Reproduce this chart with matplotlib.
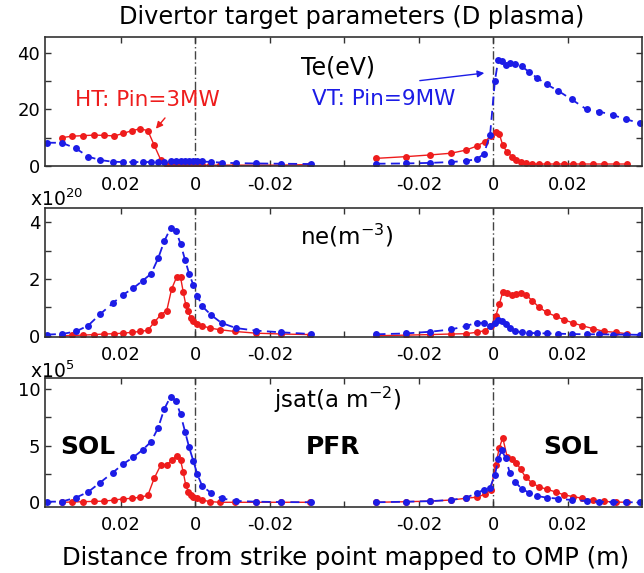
import matplotlib
matplotlib.use('Agg')
import matplotlib.pyplot as plt

# distance from strike point mapped to OMP (m); inner target drawn mirrored on the left,
# outer target shifted to the right half of the same axis
OUTER_OFFSET = 0.08

RED = '#ee1c1c'
BLUE = '#1c1ce6'

# HT (Pin=3MW) grids
d_in_ht = [0.0359, 0.0332, 0.0303, 0.0272, 0.0245, 0.0218, 0.0194, 0.0170, 0.0149, 0.0128,
           0.0111, 0.0093, 0.0077, 0.0064, 0.0050, 0.0040, 0.0033, 0.0026, 0.0019, 0.0013,
           0.0006, -0.0003, -0.0017, -0.0039, -0.0066, -0.0106, -0.0162, -0.0230, -0.0307]
d_out_ht = [-0.0314, -0.0235, -0.0170, -0.0114, -0.0074, -0.0045, -0.0023, -0.0007, 0.0006,
            0.0016, 0.0025, 0.0037, 0.0051, 0.0062, 0.0073, 0.0087, 0.0104, 0.0123, 0.0144,
            0.0168, 0.0190, 0.0214, 0.0239, 0.0268, 0.0297, 0.0329, 0.0358]

# VT (Pin=9MW) grids
d_in_vt = [0.0399, 0.0359, 0.0321, 0.0288, 0.0256, 0.0222, 0.0194, 0.0167, 0.0142, 0.0119,
           0.0100, 0.0084, 0.0067, 0.0053, 0.0040, 0.0028, 0.0017, 0.0006, -0.0005, -0.0018,
           -0.0043, -0.0070, -0.0109, -0.0162, -0.0230, -0.0310]
d_out_vt = [-0.0314, -0.0235, -0.0170, -0.0114, -0.0074, -0.0045, -0.0026, -0.0009, 0.0004,
            0.0013, 0.0022, 0.0033, 0.0044, 0.0058, 0.0076, 0.0095, 0.0116, 0.0143, 0.0174,
            0.0210, 0.0250, 0.0284, 0.0320, 0.0356, 0.0393]

# Te (eV)
te_in_ht = [10.0, 10.5, 10.7, 10.9, 10.8, 10.6, 11.5, 12.5, 13.1, 12.5, 7.4, 2.1, 0.4, 0.3,
            0.3, 0.3, 0.3, 0.3, 0.3, 0.3, 0.3, 0.3, 0.3, 0.3, 0.3, 0.3, 0.3, 0.3, 0.5]
te_out_ht = [2.7, 3.3, 3.9, 4.5, 5.6, 7.0, 8.6, 10.5, 12.1, 11.2, 7.4, 4.8, 3.3, 2.1, 1.4,
             0.9, 0.7, 0.7, 0.7, 0.7, 0.7, 0.7, 0.7, 0.7, 0.7, 0.7, 0.7]
te_in_vt = [8.2, 8.2, 6.2, 3.3, 2.1, 1.5, 1.4, 1.4, 1.4, 1.4, 1.5, 1.5, 1.6, 1.7, 1.8, 1.8,
            1.9, 1.9, 1.8, 1.6, 1.4, 1.2, 1.0, 0.9, 0.8, 0.7]
te_out_vt = [0.8, 0.9, 1.1, 1.4, 1.8, 2.4, 4.2, 10.9, 30.0, 37.4, 37.0, 35.8, 36.2, 35.9,
             35.1, 33.3, 31.2, 28.8, 26.5, 23.5, 20.0, 19.2, 18.0, 16.5, 15.1]

# ne (1e20 m^-3)
ne_in_ht = [0.0, 0.01, 0.02, 0.04, 0.06, 0.07, 0.09, 0.12, 0.15, 0.19, 0.47, 0.74, 0.89,
            1.65, 2.09, 2.06, 1.56, 1.09, 0.86, 0.62, 0.51, 0.41, 0.35, 0.27, 0.21, 0.15,
            0.09, 0.06, 0.04]
ne_out_ht = [0.0, 0.02, 0.04, 0.06, 0.07, 0.12, 0.18, 0.33, 0.68, 1.12, 1.54, 1.51, 1.45,
             1.48, 1.51, 1.45, 1.24, 1.00, 0.82, 0.68, 0.56, 0.45, 0.35, 0.25, 0.15, 0.12, 0.07]
ne_in_vt = [0.04, 0.06, 0.15, 0.36, 0.76, 1.15, 1.45, 1.68, 1.94, 2.19, 2.74, 3.33, 3.80,
            3.71, 3.25, 2.68, 2.19, 1.80, 1.42, 1.04, 0.72, 0.45, 0.27, 0.18, 0.12, 0.06]
ne_out_vt = [0.05, 0.08, 0.14, 0.22, 0.34, 0.46, 0.44, 0.36, 0.45, 0.56, 0.52, 0.41, 0.26,
             0.16, 0.12, 0.10, 0.09, 0.08, 0.07, 0.06, 0.05, 0.05, 0.04, 0.04, 0.03]

# jsat (1e5 A m^-2)
js_in_ht = [0.0, 0.02, 0.05, 0.08, 0.10, 0.2, 0.3, 0.35, 0.45, 0.6, 2.1, 3.3, 3.3, 3.7, 4.1,
            3.7, 2.7, 1.5, 0.95, 0.6, 0.45, 0.35, 0.2, 0.06, 0.0, 0.0, 0.0, 0.0, 0.0]
js_out_ht = [0.0, 0.05, 0.1, 0.2, 0.35, 0.45, 0.7, 1.1, 3.3, 4.8, 5.7, 4.0, 3.8, 3.5, 2.9,
             2.2, 1.7, 1.35, 1.15, 0.9, 0.65, 0.5, 0.35, 0.2, 0.08, 0.02, 0.0]
js_in_vt = [0.05, 0.06, 0.41, 0.91, 1.74, 2.62, 3.38, 3.97, 4.62, 5.35, 6.59, 8.21, 9.32,
            8.97, 7.76, 6.24, 4.85, 3.68, 2.47, 1.44, 0.79, 0.35, 0.12, 0.05, 0.02, 0.0]
js_out_vt = [0.0, 0.05, 0.1, 0.2, 0.4, 0.8, 1.1, 1.3, 2.4, 3.8, 4.6, 3.9, 2.6, 1.8, 1.2,
             0.85, 0.56, 0.41, 0.32, 0.2, 0.12, 0.05, 0.02, 0.0, 0.0]

xtick_pos = [-0.02, 0.0, 0.02, 0.04, 0.06, 0.08, 0.10]
xtick_lab = ['0.02', '0', '-0.02', '', '-0.02', '0', '0.02']

panels = [
    dict(data=(te_in_ht, te_out_ht, te_in_vt, te_out_vt), ylim=(0, 45.4),
         yticks=[0, 10, 20, 30, 40], ylab=['0', '', '20', '', '40']),
    dict(data=(ne_in_ht, ne_out_ht, ne_in_vt, ne_out_vt), ylim=(-0.035, 4.5),
         yticks=[0, 1, 2, 3, 4], ylab=['0', '', '2', '', '4']),
    dict(data=(js_in_ht, js_out_ht, js_in_vt, js_out_vt), ylim=(-0.39, 10.94),
         yticks=[0, 2.5, 5, 7.5, 10], ylab=['0', '', '5', '', '10']),
]

W, H = 644, 573
fig = plt.figure(figsize=(W / 100, H / 100), dpi=100)

# axes boxes as (top, bottom) in pixels
boxes = [(37.3, 166.0), (208.3, 336.7), (378.3, 506.7)]
x0, x1 = 45, 642

axes = []
for (top, bot), p in zip(boxes, panels):
    ax = fig.add_axes([x0 / W, 1 - bot / H, (x1 - x0) / W, (bot - top) / H])
    axes.append(ax)
    in_ht, out_ht, in_vt, out_vt = p['data']
    mk = dict(marker='o', markersize=5, markeredgewidth=0)
    ax.plot([-d for d in d_in_ht], in_ht, '-', color=RED, lw=1.0, **mk)
    ax.plot([OUTER_OFFSET + d for d in d_out_ht], out_ht, '-', color=RED, lw=1.0, **mk)
    ax.plot([-d for d in d_in_vt], in_vt, color=BLUE, lw=1.3, ls=(0, (5, 3)), **mk)
    ax.plot([OUTER_OFFSET + d for d in d_out_vt], out_vt, color=BLUE, lw=1.3, ls=(0, (5, 3)), **mk)
    for xv in (0.0, OUTER_OFFSET):
        ax.axvline(xv, color='#444444', lw=1.0, ls=(0, (6, 2, 1, 2)), zorder=1)
    ax.set_xlim(-0.0404, 0.1199)
    ax.set_ylim(*p['ylim'])
    ax.set_xticks(xtick_pos)
    ax.set_xticklabels(xtick_lab)
    ax.set_yticks(p['yticks'])
    ax.set_yticklabels(p['ylab'])
    ax.tick_params(direction='in', top=True, right=True, length=4.5, width=1,
                   labelsize=13, color='#333333')
    ax.tick_params(axis='x', pad=7)
    for s in ax.spines.values():
        s.set_color('#333333')
        s.set_linewidth(1.2)


def ftext(x, y, s, **kw):
    fig.text(x / W, 1 - y / H, s, ha='center', va='center', **kw)


ftext(352, 17, 'Divertor target parameters (D plasma)', fontsize=17.3)
ftext(346, 558, 'Distance from strike point mapped to OMP (m)', fontsize=17.5)
ftext(338, 68, 'Te(eV)', fontsize=17)
ftext(147, 100, 'HT: Pin=3MW', fontsize=15.5, color=RED)
ftext(384, 99, 'VT: Pin=9MW', fontsize=15.5, color=BLUE)
ftext(347, 236, r'ne(m$^{\mathregular{-3}}$)', fontsize=16.5)
ftext(338, 400, r'jsat(a m$^{\mathregular{-2}}$)', fontsize=16.5)
ftext(88, 447, 'SOL', fontsize=18, fontweight='bold')
ftext(333, 447, 'PFR', fontsize=18, fontweight='bold')
ftext(571, 447, 'SOL', fontsize=18, fontweight='bold')
fig.text(30 / W, 1 - 199 / H, r'x10$^{\mathregular{20}}$', fontsize=13.5, ha='left', va='center')
fig.text(30 / W, 1 - 371 / H, r'x10$^{\mathregular{5}}$', fontsize=13.5, ha='left', va='center')

ax = axes[0]
ax.annotate('', xy=(-0.0111, 12.4), xytext=(-0.0077, 17.7),
            arrowprops=dict(arrowstyle='-|>', color=RED, lw=1.0, mutation_scale=10))
ax.annotate('', xy=(0.0783, 32.9), xytext=(0.0595, 30.0),
            arrowprops=dict(arrowstyle='-|>', color=BLUE, lw=1.0, mutation_scale=10))

fig.savefig('out.png', dpi=100)
